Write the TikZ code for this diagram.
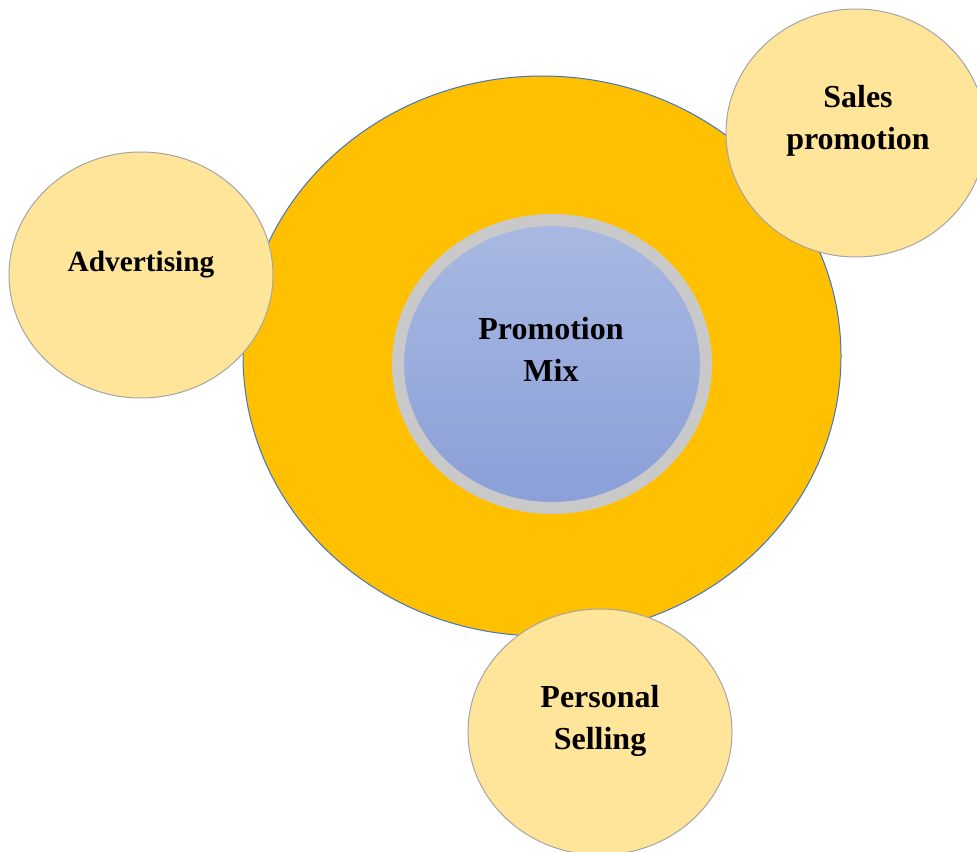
\documentclass[tikz,border=0pt]{standalone}
\usepackage{fontspec}
\setmainfont{Liberation Serif}
\usetikzlibrary{shapes.geometric}
\definecolor{ringorange}{HTML}{FFC000}
\definecolor{ringedge}{HTML}{4472C4}
\definecolor{satfill}{HTML}{FFE599}
\definecolor{satedge}{HTML}{A5A5A5}
\definecolor{coregray}{HTML}{C9C9C9}
\definecolor{coretop}{HTML}{A9B9E2}
\definecolor{corebottom}{HTML}{8A9FD8}
\tikzset{
  outerring/.style={ellipse, fill=ringorange, draw=ringedge, line width=0.75pt,
    minimum width=448.5pt, minimum height=420pt, inner sep=0pt},
  core/.style={ellipse, top color=coretop, bottom color=corebottom,
    draw=coregray, line width=9pt, minimum width=231pt, minimum height=216pt, inner sep=0pt},
  satellite/.style={ellipse, fill=satfill, draw=satedge, line width=0.75pt, inner sep=0pt},
  lbl/.style={font=\fontsize{24pt}{31.5pt}\selectfont\bfseries, align=center, anchor=base, inner sep=0pt}
}
\begin{document}
\begin{tikzpicture}[x=0.75pt, y=-0.75pt]
  \useasboundingbox (0,0) rectangle (977,852);
  \clip (0,0) rectangle (977,852);
  % central ring and core
  \node[outerring] (ring) at (542,356) {};
  \node[core] (core) at (552,364) {};
  % the three promotion tools
  \node[satellite, minimum width=198pt, minimum height=184.5pt] (adv) at (141,275) {};
  \node[satellite, minimum width=195pt, minimum height=186pt] (sales) at (856,133) {};
  \node[satellite, minimum width=198pt, minimum height=184.5pt] (pers) at (600,732) {};
  % labels (anchored at the baseline of the last line)
  \node[lbl] (coretext) at (551,381) {Promotion\\Mix};
  \node[lbl, font=\fontsize{22pt}{31.5pt}\selectfont\bfseries] (advtext) at (141,272) {Advertising};
  \node[lbl] (salestext) at (858,150) {Sales\\promotion};
  \node[lbl] (perstext) at (600,749) {Personal\\Selling};
\end{tikzpicture}
\end{document}
